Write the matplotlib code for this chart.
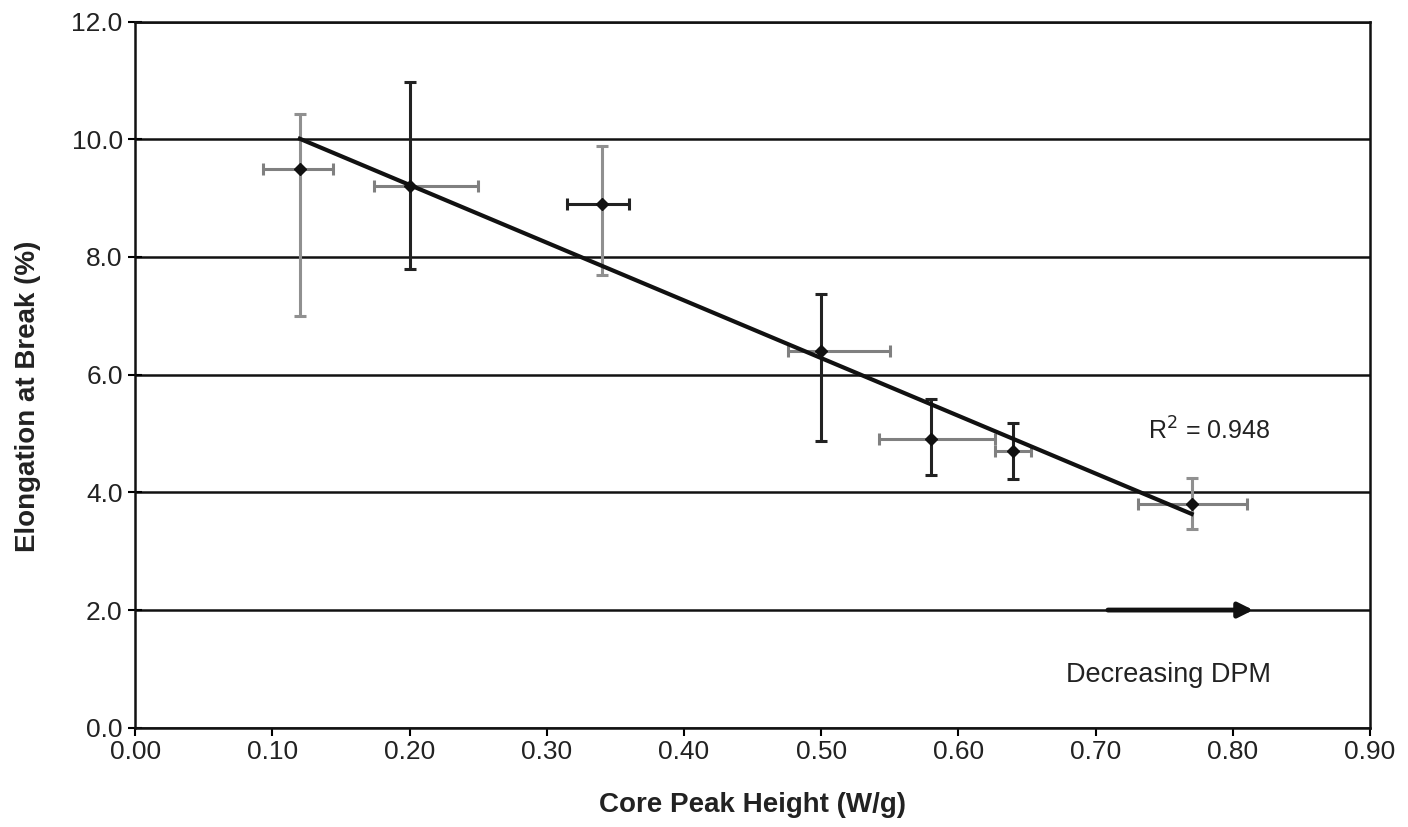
import numpy as np
from matplotlib import pyplot as plt

plt.rcParams['font.family'] = ['Liberation Sans', 'DejaVu Sans']

# data
peak = [0.12, 0.20, 0.34, 0.50, 0.58, 0.64, 0.77]
elong = [9.5, 9.2, 8.9, 6.4, 4.9, 4.7, 3.8]
x_lo = [0.093, 0.174, 0.315, 0.476, 0.542, 0.627, 0.731]
x_hi = [0.144, 0.250, 0.360, 0.550, 0.627, 0.653, 0.810]
y_lo = [7.0, 7.8, 7.7, 4.88, 4.29, 4.22, 3.37]
y_hi = [10.42, 10.98, 9.88, 7.37, 5.59, 5.17, 4.24]
r2_text = 'R$^2$ = 0.948'

# colours of the error bars (some grey, some dark)
xcol = ['#808080', '#808080', '#222222', '#808080', '#808080', '#808080', '#808080']
ycol = ['#909090', '#222222', '#909090', '#222222', '#222222', '#222222', '#909090']

fig = plt.figure(figsize=(14.08, 8.27), dpi=100)
ax = fig.add_axes([0.096, 0.12, 0.877, 0.854])

for i in range(len(peak)):
    ax.errorbar(peak[i], elong[i],
                xerr=[[peak[i] - x_lo[i]], [x_hi[i] - peak[i]]],
                fmt='none', ecolor=xcol[i], elinewidth=2.2, capsize=4, capthick=2.2, zorder=3)
    ax.errorbar(peak[i], elong[i],
                yerr=[[elong[i] - y_lo[i]], [y_hi[i] - elong[i]]],
                fmt='none', ecolor=ycol[i], elinewidth=2.2, capsize=4, capthick=2.2, zorder=3)
ax.plot(peak, elong, 'D', color='#111111', markersize=6, zorder=4)

# linear trend line
m, b = np.polyfit(peak, elong, 1)
xs = np.array([min(peak), max(peak)])
ax.plot(xs, m * xs + b, color='#111111', lw=3, zorder=5)

ax.text(0.738, 4.9, r2_text, fontsize=18, color='#222222')
ax.annotate('', xy=(0.817, 2.0), xytext=(0.707, 2.0),
            arrowprops=dict(arrowstyle='-|>', color='#111111', lw=3.5, mutation_scale=22))
ax.text(0.7535, 0.9, 'Decreasing DPM', fontsize=19.5, color='#222222', ha='center', va='center')

ax.set_xlim(0, 0.9)
ax.set_ylim(0, 12)
ax.set_xticks(np.arange(0, 0.91, 0.1))
ax.set_xticklabels(['%.2f' % v for v in np.arange(0, 0.91, 0.1)])
ax.set_yticks(np.arange(0, 12.1, 2))
ax.set_yticklabels(['%.1f' % v for v in np.arange(0, 12.1, 2)])
ax.yaxis.grid(True, color='#111111', lw=1.8)
ax.set_axisbelow(True)
for s in ax.spines:
    ax.spines[s].set_linewidth(1.8)
    ax.spines[s].set_color('#111111')
ax.tick_params(axis='y', direction='inout', length=10, width=1.5, labelsize=19,
               labelcolor='#222222', pad=4)
ax.tick_params(axis='x', direction='out', length=6, width=1.5, labelsize=19,
               labelcolor='#222222', pad=3)
ax.set_xlabel('Core Peak Height (W/g)', fontsize=20, fontweight='bold', color='#222222')
ax.set_ylabel('Elongation at Break (%)', fontsize=20, fontweight='bold', color='#222222')
ax.xaxis.set_label_coords(0.5, -0.109, transform=ax.transAxes)
ax.yaxis.set_label_coords(-0.087, 0.47, transform=ax.transAxes)
ax.xaxis.label.set_va('center')
ax.yaxis.label.set_va('center')

fig.savefig('out.png', dpi=100)
